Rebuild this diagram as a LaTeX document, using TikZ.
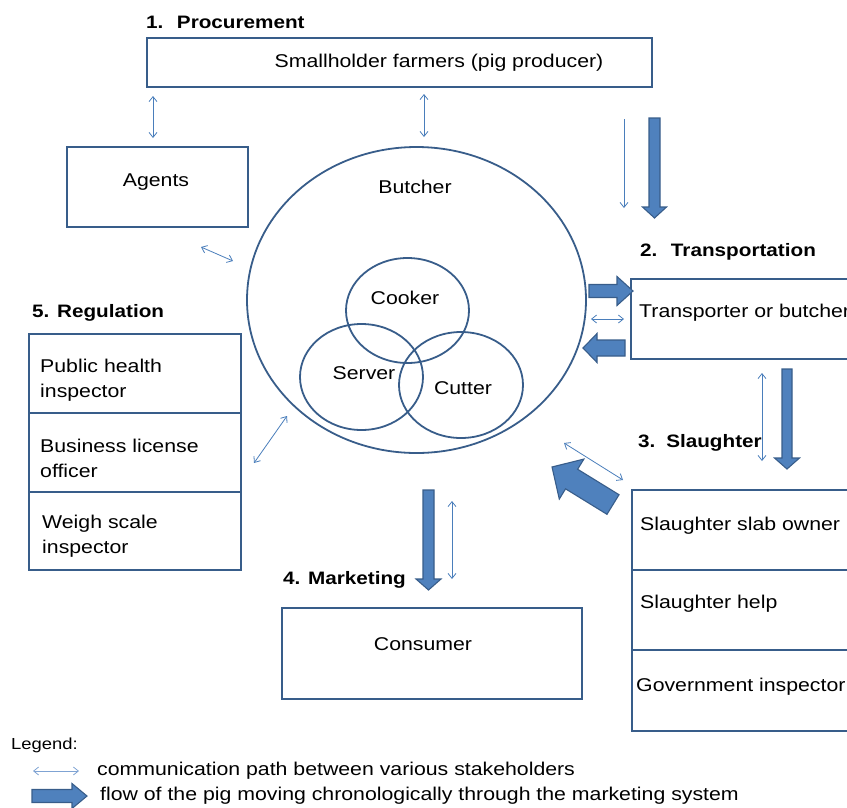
\documentclass[tikz,border=0pt]{standalone}
\usepackage{fontspec}
\setmainfont{Liberation Sans}[FakeStretch=1.15]
\usetikzlibrary{shapes.geometric,arrows.meta}
\definecolor{boxline}{HTML}{385D8A}
\definecolor{thinblue}{HTML}{4A7EBB}
\definecolor{lightblue}{HTML}{7FA3D3}
\definecolor{fatfill}{HTML}{4F81BD}
\begin{document}
\begin{tikzpicture}[x=1pt,y=-1pt,
  rbox/.style={draw=boxline,line width=1.8pt,inner sep=0pt,anchor=north west,rectangle},
  ring/.style={draw=boxline,line width=1.8pt,ellipse,inner sep=0pt},
  title/.style={font=\bfseries\fontsize{18}{21}\selectfont,inner sep=0pt,anchor=west},
  body/.style={font=\fontsize{18.5}{25}\selectfont,inner sep=0pt},
  lbody/.style={body,anchor=west,align=left},
  comm/.style={draw=thinblue,line width=0.8pt,
    arrows={Straight Barb[length=5pt,width=8pt]-Straight Barb[length=5pt,width=8pt]}},
  commone/.style={draw=thinblue,line width=0.8pt,arrows={-Straight Barb[length=5pt,width=8pt]}},
  pics/fatarrow/.style n args={4}{code={
    \draw[fill=fatfill,draw=boxline,line width=1.1pt,line join=miter]
      (0,-#2) -- ({#1-#4},-#2) -- ({#1-#4},-#3) -- (#1,0) -- ({#1-#4},#3)
      -- ({#1-#4},#2) -- (0,#2) -- cycle;}}
]
\useasboundingbox (0,0) rectangle (847,807);
\clip (0,0) rectangle (847,807);

% ---- 1. Procurement
\node[title] (t1) at (146,22) {1.\hspace{0.75em}Procurement};
\node[rbox,minimum width=505pt,minimum height=49pt] (farm) at (146,37) {};
\node[body] (farmtxt) at (439,63) {Smallholder farmers (pig producer)};

\node[rbox,minimum width=181pt,minimum height=80pt] (agents) at (66,146) {};
\node[body] (agentstxt) at (156,182) {Agents};

% ---- Butcher
\node[ring,minimum width=339pt,minimum height=306pt] (butcher) at (416.5,300) {};
\node[body] (butchertxt) at (415,187) {Butcher};
\node[ring,minimum width=123pt,minimum height=105pt] (cooker) at (407.5,310.5) {};
\node[ring,minimum width=123pt,minimum height=106pt] (server) at (361.5,377) {};
\node[ring,minimum width=124pt,minimum height=106pt] (cutter) at (461,385) {};
\node[body] (cookertxt) at (405,298) {Cooker};
\node[body] (servertxt) at (364,373) {Server};
\node[body] (cuttertxt) at (463,388) {Cutter};

% ---- 2. Transportation
\node[title] (t2) at (640,252) {2.\hspace{0.75em}Transportation};
\node[rbox,minimum width=240pt,minimum height=80pt] (trans) at (630,278) {};
\node[lbody] (transtxt) at (639,313) {Transporter or butcher};

% ---- 3. Slaughter
\node[title] (t3) at (638,443) {3.\hspace{0.6em}Slaughter};
\node[rbox,minimum width=240pt,minimum height=80pt] (slab) at (631,489) {};
\node[rbox,minimum width=240pt,minimum height=80pt] (help) at (631,569) {};
\node[rbox,minimum width=240pt,minimum height=81pt] (gov) at (631,649) {};
\node[lbody] (slabtxt) at (640,526) {Slaughter slab owner};
\node[lbody] (helptxt) at (640,604) {Slaughter help};
\node[lbody] (govtxt) at (636,687) {Government inspector};

% ---- 5. Regulation
\node[title] (t5) at (32,313) {5. Regulation};
\node[rbox,minimum width=212pt,minimum height=79pt] (phi) at (28,333) {};
\node[rbox,minimum width=212pt,minimum height=79pt] (blo) at (28,412) {};
\node[rbox,minimum width=212pt,minimum height=78pt] (wsi) at (28,491) {};
\node[lbody] (phitxt) at (40,380) {Public health\\inspector};
\node[lbody] (blotxt) at (40,458.5) {Business license\\officer};
\node[lbody] (wsitxt) at (42,536.5) {Weigh scale\\inspector};

% ---- 4. Marketing
\node[title] (t4) at (283,580) {4. Marketing};
\node[rbox,minimum width=300pt,minimum height=91pt] (cons) at (281,607) {};
\node[body] (constxt) at (423,644) {Consumer};

% ---- communication paths
\coordinate (c1a) at (153,96);  \coordinate (c1b) at (153,138);
\coordinate (c2a) at (424,94);  \coordinate (c2b) at (424,137);
\coordinate (c3a) at (201,247); \coordinate (c3b) at (233,261);
\coordinate (c4a) at (624,119); \coordinate (c4b) at (624,208);
\coordinate (c5a) at (591,319); \coordinate (c5b) at (624,319);
\coordinate (c6a) at (762,373); \coordinate (c6b) at (762,461);
\coordinate (c7a) at (564,443); \coordinate (c7b) at (623,480);
\coordinate (c8a) at (254,463); \coordinate (c8b) at (287,416);
\coordinate (c9a) at (452,501); \coordinate (c9b) at (452,579);
\draw[comm] (c1a) -- (c1b);
\draw[comm] (c2a) -- (c2b);
\draw[comm] (c3a) -- (c3b);
\draw[commone] (c4a) -- (c4b);
\draw[comm] (c5a) -- (c5b);
\draw[comm] (c6a) -- (c6b);
\draw[comm] (c7a) -- (c7b);
\draw[comm] (c8a) -- (c8b);
\draw[comm] (c9a) -- (c9b);

% ---- flow of the pig
\pic[rotate=-90] (f1) at (654.5,118) {fatarrow={100}{5.5}{12}{11}};
\pic (f2) at (589,291) {fatarrow={44}{6.5}{14.5}{16}};
\pic[rotate=180] (f3) at (625,348) {fatarrow={42}{8}{14.5}{14}};
\pic[rotate=-90] (f4) at (787,369) {fatarrow={100}{5}{12.5}{11}};
\pic[rotate=148.4] (f5) at (613,504.5) {fatarrow={71.6}{11.5}{23.5}{23}};
\pic[rotate=-90] (f6) at (428.5,490) {fatarrow={100}{5.5}{12.5}{11}};

% ---- Legend
\node[font=\fontsize{16}{19}\selectfont,inner sep=0pt,anchor=west] (leg) at (11,745) {Legend:};
\coordinate (la) at (33,771); \coordinate (lb) at (79,771);
\draw[comm,draw=lightblue] (la) -- (lb);
\node[lbody] (legtxt1) at (97,771) {communication path between various stakeholders};
\pic (lf) at (32,796) {fatarrow={55}{6.5}{12.5}{15}};
\node[lbody] (legtxt2) at (100,796) {flow of the pig moving chronologically through the marketing system};
\end{tikzpicture}
\end{document}
